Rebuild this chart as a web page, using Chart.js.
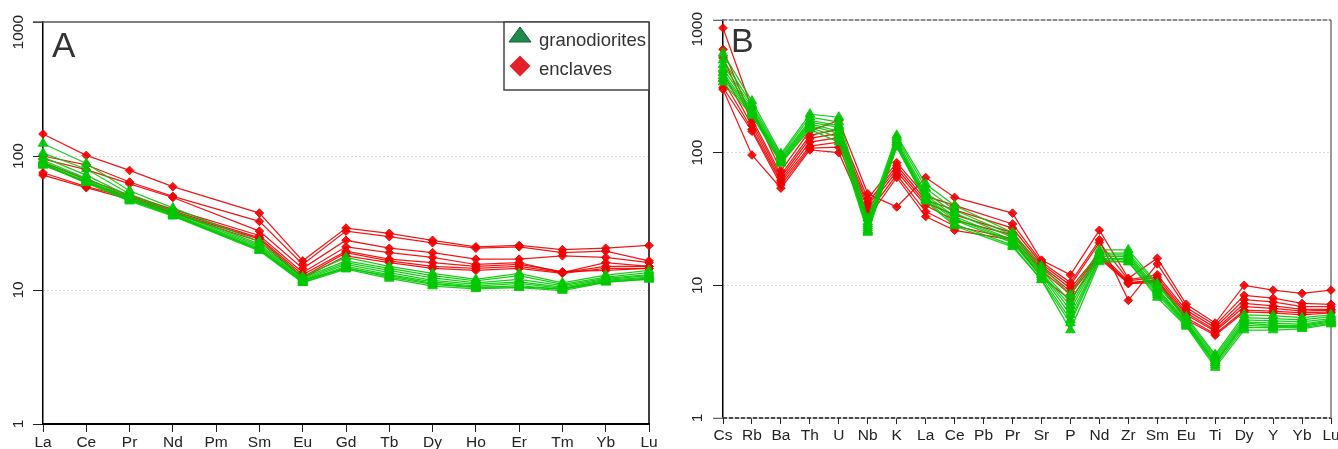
<!DOCTYPE html>
<html>
<head>
<meta charset="utf-8">
<title>Chondrite- and primitive-mantle-normalised patterns</title>
<script src="https://cdn.jsdelivr.net/npm/chart.js@4.4.1/dist/chart.umd.min.js"></script>
<style>
  html, body { margin: 0; padding: 0; background: #fff; overflow: hidden; }
  #wrap { position: relative; width: 1338px; height: 449px; }
  canvas { position: absolute; top: 0; }
  #cA { left: 0; }
  #cB { left: 669px; }
</style>
</head>
<body>
<div id="wrap">
  <canvas id="cA" width="669" height="449"></canvas>
  <canvas id="cB" width="669" height="449"></canvas>
</div>
<script>
// ---- Element order on each diagram ----
const reeElements = ['La','Ce','Pr','Nd','Pm','Sm','Eu','Gd','Tb','Dy','Ho','Er','Tm','Yb','Lu'];
const spiderElements = ['Cs','Rb','Ba','Th','U','Nb','K','La','Ce','Pb','Pr','Sr','P','Nd','Zr','Sm','Eu','Ti','Dy','Y','Yb','Lu'];
const yTickValues = [1, 10, 100, 1000];

// ---- A: REE, chondrite normalised (Pm not analysed) ----
const reeGranodiorites = [
  [124, 88, 55, 41, null, 23.0, 12.6, 17.5, 15.0, 13.3, 12.0, 13.3, 11.3, 12.9, 14.0],
  [105, 80, 52, 39, null, 22.0, 12.3, 16.5, 14.5, 12.8, 11.7, 12.8, 11.0, 12.5, 13.5],
  [ 98, 72, 50, 38, null, 21.5, 12.0, 16.0, 14.0, 12.3, 11.3, 12.0, 10.8, 12.2, 13.0],
  [ 93, 68, 49, 37, null, 21.0, 11.8, 15.5, 13.5, 11.8, 11.0, 11.5, 10.5, 12.0, 12.8],
  [ 90, 66, 48, 36.5, null, 20.5, 11.6, 15.0, 13.0, 11.5, 10.7, 11.2, 10.3, 11.8, 12.5],
  [ 88, 64, 47, 36, null, 20.0, 11.4, 14.7, 12.5, 11.0, 10.4, 10.8, 10.1, 11.6, 12.3],
  [ 86, 63, 46, 35.5, null, 19.6, 11.3, 14.3, 12.2, 10.7, 10.2, 10.4, 9.9, 11.4, 12.1],
  [ 85, 65, 47.5, 36, null, 20.0, 11.8, 14.5, 12.8, 11.2, 10.5, 10.5, 10.2, 11.5, 12.0]
];
const reeEnclaves = [
  [146, 101, 78, 59, null, 37.5, 16.5, 29.0, 26.5, 23.5, 21.0, 21.5, 20.0, 20.5, 21.5],
  [100, 86, 64, 50, null, 32.5, 15.5, 27.5, 25.0, 22.5, 20.5, 21.0, 19.0, 19.5, 16.5],
  [ 95, 79, 62, 49, null, 27.5, 14.5, 23.5, 20.5, 19.0, 17.0, 17.0, 18.0, 17.5, 16.0],
  [ 90, 67, 51, 40, null, 25.5, 13.5, 21.0, 19.0, 17.5, 15.5, 16.0, 13.5, 15.0, 15.0],
  [ 88, 63, 50, 39, null, 24.5, 13.0, 19.5, 17.0, 16.0, 15.0, 15.5, 13.7, 14.0, 14.5],
  [ 75, 59, 49, 38, null, 24.0, 12.5, 19.0, 16.5, 15.0, 14.5, 15.0, 13.5, 16.0, 15.0],
  [ 72, 58, 47.5, 37.5, null, 23.0, 12.3, 18.0, 16.0, 14.5, 14.0, 14.5, 13.3, 14.5, 14.5]
];

// ---- B: multi-element, primitive mantle normalised (Pb not plotted) ----
const spiderGranodiorites = [
  [560, 245, 98, 195, 185, 32, 135, 58, 40, null, 25, 14, 8.5, 18.5, 18.5, 10.3, 5.8, 3.0, 6.0, 5.9, 5.7, 6.0],
  [500, 230, 95, 185, 170, 30, 130, 54, 37, null, 24, 13, 7.5, 17.5, 17.5, 10.0, 5.6, 2.9, 5.7, 5.6, 5.5, 5.8],
  [460, 220, 92, 175, 160, 29, 125, 50, 35, null, 23, 12.5, 7.0, 17, 17, 9.5, 5.4, 2.8, 5.5, 5.4, 5.3, 5.6],
  [430, 210, 90, 170, 155, 28, 120, 48, 33, null, 22, 12.3, 6.5, 16.5, 16.5, 9.2, 5.3, 2.7, 5.3, 5.2, 5.1, 5.5],
  [400, 205, 88, 165, 145, 27, 118, 46, 32, null, 21.5, 12, 6.0, 16, 16, 9.0, 5.2, 2.6, 5.2, 5.0, 5.0, 5.4],
  [380, 200, 86, 160, 140, 26, 115, 45, 31, null, 21, 11.5, 5.5, 16, 15.5, 8.8, 5.1, 2.6, 5.0, 4.9, 4.9, 5.3],
  [360, 195, 84, 155, 130, 25.5, 112, 44, 29, null, 20, 11, 5.2, 15.5, 15, 8.5, 5.0, 2.5, 4.8, 4.8, 4.8, 5.2],
  [340, 190, 83, 150, 120, 25, 110, 43, 28, null, 19.5, 11, 4.6, 15, 15, 8.1, 4.9, 2.4, 4.6, 4.6, 4.7, 5.1]
];
const spiderEnclaves = [
  [870, 215, 73, 146, 175, 49, 39, 65, 46, null, 35, 15.5, 12, 26, 11.3, 16, 7.2, 5.2, 10, 9.2, 8.7, 9.2],
  [600, 180, 68, 135, 150, 45, 84, 47, 40, null, 29, 15, 10.5, 22, 7.7, 14.5, 6.8, 5.0, 8.4, 8.0, 7.3, 7.2],
  [520, 170, 65, 128, 140, 42, 80, 44, 37, null, 27, 14.5, 10, 21, 11, 12, 6.5, 4.8, 7.8, 7.5, 6.9, 6.9],
  [400, 160, 62, 120, 130, 40, 76, 42, 34, null, 25, 14, 9.5, 17.5, 10.8, 11.5, 6.2, 4.6, 7.3, 7.0, 6.6, 6.6],
  [350, 150, 60, 112, 120, 38, 72, 40, 31, null, 24, 13.5, 9, 17, 10.5, 11, 6.0, 4.5, 6.9, 6.7, 6.4, 6.5],
  [310, 145, 57, 108, 110, 35, 68, 36, 28, null, 22.5, 13, 8.5, 16.5, 10.4, 10.8, 5.7, 4.3, 6.5, 6.4, 6.2, 6.3],
  [300, 96, 54, 105, 100, 32, 65, 33, 26, null, 22, 11.5, 7.8, 16, 10.3, 10.5, 5.5, 4.2, 6.3, 6.2, 6.0, 6.2]
];

const FONT = "'Liberation Sans', Arial, Helvetica, sans-serif";
const groupStyles = {
  granodiorites: { line: 'rgba(0, 200, 0, 0.9)', shape: 'triangle', r: 5.5 },
  enclaves:      { line: 'rgba(238, 0, 0, 0.9)', shape: 'rectRot', r: 4.3 }
};

function buildSets(rows, style) {
  return rows.map(row => ({
    data: row,
    borderColor: style.line,
    backgroundColor: style.line,
    pointBorderColor: style.line,
    pointBackgroundColor: style.line,
    pointStyle: style.shape,
    pointRadius: style.r,
    pointHoverRadius: style.r,
    pointBorderWidth: 1,
    borderWidth: 1.25,
    spanGaps: true,
    tension: 0,
    clip: false
  }));
}

// Frame, rotated y labels, panel letter and key
const framePlugin = {
  id: 'frame',
  beforeDatasetsDraw(chart, args, o) {
    const { ctx, chartArea: a } = chart;
    ctx.save();
    if (o.boxStyle === 'solid') {
      ctx.strokeStyle = '#555'; ctx.lineWidth = 1.5;
      ctx.beginPath(); ctx.moveTo(a.left - 10, a.top); ctx.lineTo(a.right, a.top); ctx.stroke();
      ctx.strokeStyle = '#000';
      ctx.beginPath(); ctx.moveTo(a.right, a.top); ctx.lineTo(a.right, a.bottom); ctx.stroke();
    } else {
      // dashed top and bottom, plain right side
      [a.top, a.bottom].forEach((yy, k) => {
        ctx.setLineDash([]);
        ctx.strokeStyle = '#a8a8a8'; ctx.lineWidth = 1;
        ctx.beginPath(); ctx.moveTo(a.left - 10, yy); ctx.lineTo(a.right, yy); ctx.stroke();
        ctx.setLineDash([4, 2]);
        ctx.strokeStyle = k === 0 ? '#777' : '#222'; ctx.lineWidth = 1.5;
        ctx.beginPath(); ctx.moveTo(a.left, yy); ctx.lineTo(a.right, yy); ctx.stroke();
      });
      ctx.setLineDash([]);
      ctx.strokeStyle = '#777'; ctx.lineWidth = 1.5;
      ctx.beginPath(); ctx.moveTo(a.right, a.top); ctx.lineTo(a.right, a.bottom); ctx.stroke();
    }
    ctx.restore();
  },
  afterDraw(chart, args, o) {
    const { ctx } = chart;
    const y = chart.scales.y;
    ctx.save();
    // rotated y tick labels
    ctx.fillStyle = '#222';
    ctx.font = '15.5px ' + FONT;
    ctx.textAlign = 'center';
    ctx.textBaseline = 'middle';
    y.ticks.forEach(t => {
      const label = String(t.value);
      const half = ctx.measureText(label).width / 2;
      let py = y.getPixelForValue(t.value);
      if (py - half < o.labelTop) py = o.labelTop + half;
      ctx.save();
      ctx.translate(o.labelX, py);
      ctx.rotate(-Math.PI / 2);
      ctx.fillText(label, 0, 0);
      ctx.restore();
    });
    // panel letter
    ctx.fillStyle = '#333';
    ctx.font = o.letterSize + 'px ' + FONT;
    ctx.textAlign = 'left';
    ctx.textBaseline = 'alphabetic';
    ctx.fillText(o.letter, o.letterX, o.letterY);
    // key
    if (o.key) {
      const k = o.key;
      ctx.fillStyle = '#fff';
      ctx.fillRect(k.left, k.top, k.right - k.left, k.bottom - k.top);
      ctx.strokeStyle = '#444'; ctx.lineWidth = 1.5;
      ctx.strokeRect(k.left, k.top, k.right - k.left, k.bottom - k.top);
      // triangle
      ctx.fillStyle = '#1f8a4c'; ctx.strokeStyle = '#145c33'; ctx.lineWidth = 1;
      ctx.beginPath();
      ctx.moveTo(k.symX, k.row1 - 8); ctx.lineTo(k.symX + 11, k.row1 + 7); ctx.lineTo(k.symX - 11, k.row1 + 7);
      ctx.closePath(); ctx.fill(); ctx.stroke();
      // diamond
      ctx.fillStyle = '#e3212b';
      ctx.beginPath();
      ctx.moveTo(k.symX, k.row2 - 10.5); ctx.lineTo(k.symX + 10.5, k.row2);
      ctx.lineTo(k.symX, k.row2 + 10.5); ctx.lineTo(k.symX - 10.5, k.row2);
      ctx.closePath(); ctx.fill();
      ctx.fillStyle = '#333';
      ctx.font = '18.5px ' + FONT;
      ctx.fillText('granodiorites', k.textX, k.base1);
      ctx.fillText('enclaves', k.textX, k.base2);
    }
    ctx.restore();
  }
};

function makeChart(canvasId, cats, green, red, p) {
  return new Chart(document.getElementById(canvasId), {
    type: 'line',
    data: {
      labels: cats,
      datasets: [...buildSets(green, groupStyles.granodiorites), ...buildSets(red, groupStyles.enclaves)]
    },
    plugins: [framePlugin],
    options: {
      responsive: false,
      animation: false,
      devicePixelRatio: 1,
      events: [],
      layout: { padding: { left: 0, right: p.padRight, top: p.padTop, bottom: 0 } },
      plugins: {
        legend: { display: false },
        tooltip: { enabled: false },
        frame: p.frame
      },
      scales: {
        x: {
          type: 'category',
          offset: false,
          grid: { display: true, drawOnChartArea: false, drawTicks: true, tickLength: p.xTick, tickColor: '#222', tickWidth: 1 },
          border: { display: p.xBorder, color: '#000', width: 2 },
          ticks: { font: { family: FONT, size: 15.5 }, color: '#222', padding: p.xPad, autoSkip: false, maxRotation: 0, minRotation: 0 },
          afterFit(s) { s.height = p.xHeight; s.paddingLeft = 0; s.paddingRight = 0; }
        },
        y: {
          type: 'logarithmic',
          min: 1,
          max: 1000,
          afterBuildTicks(s) { s.ticks = yTickValues.map(v => ({ value: v })); },
          grid: {
            color: c => (c.tick && (c.tick.value === 10 || c.tick.value === 100)) ? '#b4b4b4' : 'rgba(0,0,0,0)',
            lineWidth: 1,
            drawTicks: true,
            tickLength: 10,
            tickColor: '#222',
            tickWidth: 1
          },
          border: { display: true, color: '#000', width: 1.5, dash: [1, 3] },
          ticks: { display: false },
          afterFit(s) { s.width = p.yWidth; s.paddingTop = 0; s.paddingBottom = 0; }
        }
      }
    }
  });
}

makeChart('cA', reeElements, reeGranodiorites, reeEnclaves, {
  padRight: 20, padTop: 22, xHeight: 25, yWidth: 43, xTick: 8, xPad: 1, xBorder: true,
  frame: {
    boxStyle: 'solid', labelX: 19, labelTop: 15,
    letter: 'A', letterSize: 35, letterX: 52, letterY: 57,
    key: { left: 504, right: 649, top: 22, bottom: 90, symX: 520, row1: 35, row2: 66, textX: 539, base1: 46, base2: 75 }
  }
});

makeChart('cB', spiderElements, spiderGranodiorites, spiderEnclaves, {
  padRight: 7, padTop: 20, xHeight: 31, yWidth: 54, xTick: 6, xPad: 2, xBorder: false,
  frame: {
    boxStyle: 'dashed', labelX: 29, labelTop: 12,
    letter: 'B', letterSize: 34, letterX: 62, letterY: 52,
    key: null
  }
});
</script>
</body>
</html>
